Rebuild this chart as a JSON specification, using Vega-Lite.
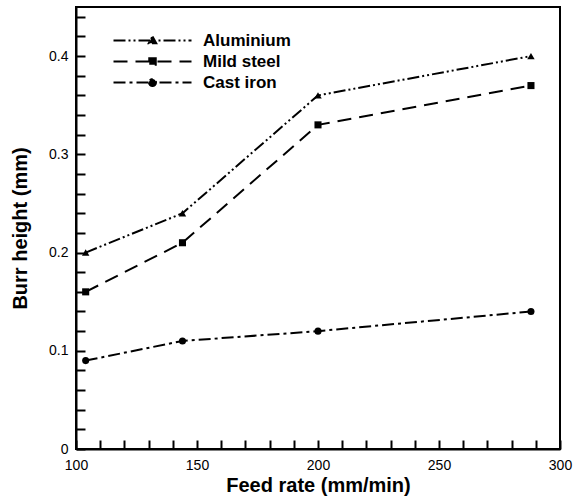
{
  "$schema": "https://vega.github.io/schema/vega-lite/v6.json",
  "width": 484,
  "height": 442,
  "autosize": {"type": "none"},
  "padding": {"left": 76, "top": 7, "right": 22, "bottom": 52},
  "background": "white",
  "config": {
    "view": {"stroke": "black", "strokeWidth": 2},
    "font": "Liberation Sans"
  },
  "data": {"values": [
    {"material": "Aluminium", "feed": 104, "burr": 0.20},
    {"material": "Aluminium", "feed": 144, "burr": 0.24},
    {"material": "Aluminium", "feed": 200, "burr": 0.36},
    {"material": "Aluminium", "feed": 288, "burr": 0.40},
    {"material": "Mild steel", "feed": 104, "burr": 0.16},
    {"material": "Mild steel", "feed": 144, "burr": 0.21},
    {"material": "Mild steel", "feed": 200, "burr": 0.33},
    {"material": "Mild steel", "feed": 288, "burr": 0.37},
    {"material": "Cast iron", "feed": 104, "burr": 0.09},
    {"material": "Cast iron", "feed": 144, "burr": 0.11},
    {"material": "Cast iron", "feed": 200, "burr": 0.12},
    {"material": "Cast iron", "feed": 288, "burr": 0.14}
  ]},
  "encoding": {
    "x": {"field": "feed", "type": "quantitative", "scale": {"domain": [100, 300], "nice": false},
      "axis": {"title": "Feed rate (mm/min)",
        "values": [100,110,120,130,140,150,160,170,180,190,200,210,220,230,240,250,260,270,280,290,300],
        "labelExpr": "datum.value % 50 === 0 ? datum.label : ''",
        "gridOpacity": 0, "tickSize": -9, "tickColor": "#000000", "tickWidth": 2,
        "domainColor": "black", "domainWidth": 2,
        "labelFontSize": 14, "labelColor": "black", "labelPadding": 18, "labelFlush": false, "labelOverlap": false,
        "titleFontSize": 20, "titleFontWeight": "bold", "titleColor": "black", "titlePadding": 3,
        "encode": {"ticks": {"update": {"y2": {"signal": "datum.value % 50 === 0 ? -9 : -5"}}}}}},
    "y": {"field": "burr", "type": "quantitative", "scale": {"domain": [0, 0.45], "nice": false},
      "axis": {"title": "Burr height (mm)",
        "values": [0,0.02,0.04,0.06,0.08,0.1,0.12,0.14,0.16,0.18,0.2,0.22,0.24,0.26,0.28,0.3,0.32,0.34,0.36,0.38,0.4,0.42,0.44],
        "labelExpr": "abs(datum.value*10 - round(datum.value*10)) < 0.000001 ? format(datum.value, '.1~f') : ''",
        "gridOpacity": 0, "tickSize": -9, "tickColor": "#000000", "tickWidth": 2,
        "domainColor": "black", "domainWidth": 2,
        "labelFontSize": 14, "labelColor": "black", "labelPadding": 17, "labelFlush": false, "labelOverlap": false,
        "titleFontSize": 20, "titleFontWeight": "bold", "titleColor": "black", "titlePadding": 18,
        "encode": {"ticks": {"update": {"x2": {"signal": "abs(datum.value*10 - round(datum.value*10)) < 0.000001 ? 9 : 5"}}}}}}
  },
  "layer": [
    {
      "mark": {"type": "line", "color": "black", "strokeWidth": 2},
      "encoding": {
        "strokeDash": {"field": "material", "type": "nominal",
          "scale": {"domain": ["Aluminium", "Mild steel", "Cast iron"], "range": [[12,3,2,3,2,3],[14,8],[12,4,3,4]]},
          "legend": {"title": null, "orient": "none", "legendX": 68, "legendY": 25,
            "labelFontSize": 17, "labelFontWeight": "bold", "labelColor": "black", "labelFont": "Liberation Sans",
            "symbolSize": 100, "symbolStrokeWidth": 2, "symbolStrokeColor": "black", "labelOffset": 42, "rowPadding": 3, "padding": 0,
            "encode": {"symbols": {"update": {
              "fill": {"value": "black"},
              "stroke": {"value": "black"},
              "strokeWidth": {"value": 2},
              "opacity": {"value": 1},
              "shape": {"signal": "datum.value === 'Aluminium' ? 'M-7.8,0L7.8,0M0,-0.8L0.75,0.55L-0.75,0.55Z' : datum.value === 'Mild steel' ? 'M-7.8,0L7.8,0M-0.65,-0.65L0.65,-0.65L0.65,0.65L-0.65,0.65Z' : 'M-7.8,0L7.8,0M-0.7,0A0.7,0.7 0 1,0 0.7,0A0.7,0.7 0 1,0 -0.7,0Z'"}
            }}}
          }}
      }
    },
    {
      "transform": [{"filter": "datum.material === 'Aluminium'"}],
      "mark": {"type": "point", "shape": "triangle-up", "filled": true, "color": "black", "size": 55, "opacity": 1}
    },
    {
      "transform": [{"filter": "datum.material === 'Mild steel'"}],
      "mark": {"type": "point", "shape": "square", "filled": true, "color": "black", "size": 50, "opacity": 1}
    },
    {
      "transform": [{"filter": "datum.material === 'Cast iron'"}],
      "mark": {"type": "point", "shape": "circle", "filled": true, "color": "black", "size": 50, "opacity": 1}
    }
  ]
}
